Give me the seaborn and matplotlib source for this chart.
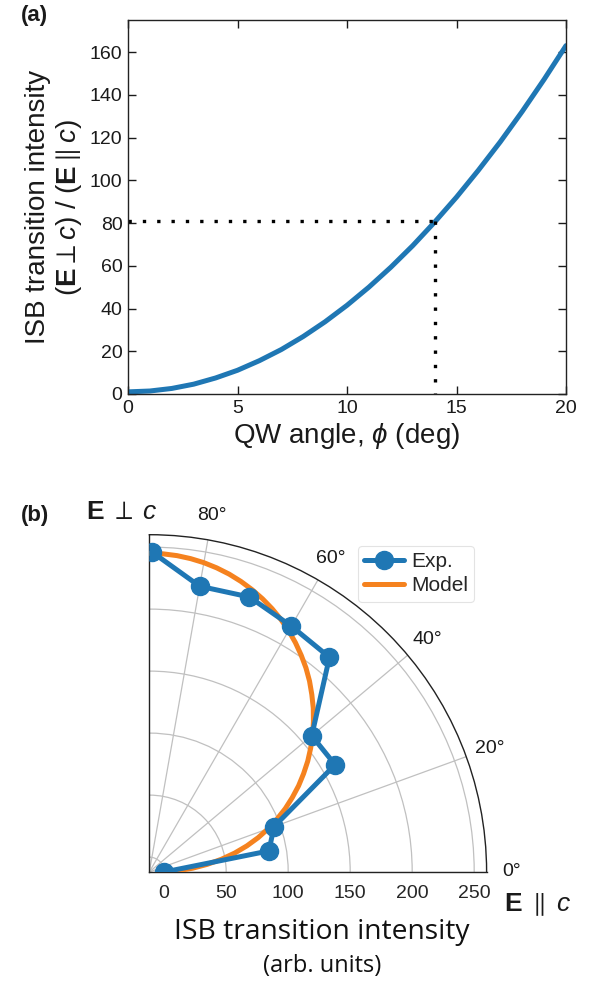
import numpy as np
import matplotlib
matplotlib.use("Agg")
import matplotlib.pyplot as plt
import seaborn as sns
import pandas as pd

# ---------------- data ----------------
# (a) ratio of ISB intensity vs QW angle
phi_deg = [0, 1, 2, 3, 4, 5, 6, 7, 8, 9, 10, 11, 12, 13, 14, 15, 16, 17, 18, 19, 20]
ratio = [1.0, 1.4, 2.6, 4.6, 7.5, 11.1, 15.6, 20.8, 26.9, 33.8, 41.5, 50.0, 59.3,
         69.4, 80.4, 92.1, 104.7, 118.0, 132.2, 147.2, 163.0]
marker_phi = 14
marker_ratio = 81
a_xticks = [0, 5, 10, 15, 20]
a_yticks = [0, 20, 40, 60, 80, 100, 120, 140, 160]

# (b) polar data
exp_theta_deg = [0, 10, 20, 30, 40, 50, 60, 70, 80, 89.5]
exp_r = [0, 86, 95, 161, 159, 214, 217, 224, 222, 246]
model_theta_deg = [0, 2.5, 5, 7.5, 10, 12.5, 15, 17.5, 20, 22.5, 25, 27.5, 30, 32.5,
                   35, 37.5, 40, 42.5, 45, 47.5, 50, 52.5, 55, 57.5, 60, 62.5, 65,
                   67.5, 70, 72.5, 75, 77.5, 80, 82.5, 85, 87.5, 90]
model_r = [0, 11.5, 23, 35, 47, 58.5, 69.5, 80, 90, 99.5, 109, 118, 127, 135.5,
           144, 152, 160, 167.5, 175, 182, 189, 195.5, 201.5, 207.3, 212.7, 217.7,
           222.3, 226.5, 230.3, 233.7, 236.7, 239.2, 241.3, 242.9, 244.1, 244.8, 245.0]
b_rticks = [0, 50, 100, 150, 200, 250]
b_thetaticks = [0, 20, 40, 60, 80]

BLUE = "#1f77b4"
ORANGE = "#f5821f"

sns.set_theme(style="white")
plt.rcParams["font.family"] = ["Liberation Sans", "DejaVu Sans"]
plt.rcParams["mathtext.fontset"] = "custom"
plt.rcParams["mathtext.rm"] = "Liberation Sans"
plt.rcParams["mathtext.it"] = "Liberation Sans:italic"
plt.rcParams["mathtext.bf"] = "Liberation Sans:bold"

W, H = 590, 983
fig = plt.figure(figsize=(W / 100, H / 100), dpi=100)
TXT = "#1a1a1a"

# ---------------- panel (a) ----------------
axa = fig.add_axes([128 / W, 1 - 394 / H, (566 - 128) / W, (394 - 20) / H])
dfa = pd.DataFrame({"phi": phi_deg, "ratio": ratio})
sns.lineplot(data=dfa, x="phi", y="ratio", ax=axa, color=BLUE, lw=3.6)
axa.plot([0, marker_phi], [marker_ratio, marker_ratio], color="black", lw=2.4,
         linestyle=(0, (1, 3.3)), dash_capstyle="butt")
axa.plot([marker_phi, marker_phi], [marker_ratio, 0], color="black", lw=2.4,
         linestyle=(0, (1, 3.3)), dash_capstyle="butt")
axa.set_xlim(0, 20)
axa.set_ylim(0, 175)
axa.set_xticks(a_xticks)
axa.set_yticks(a_yticks)
axa.tick_params(direction="in", bottom=True, left=True, top=True, right=True,
                length=6, width=1, labelsize=14, colors=TXT, pad=4)
for s in axa.spines.values():
    s.set_color("#222222")
    s.set_linewidth(1.0)
axa.set_xlabel(r"QW angle, $\phi$ (deg)", fontsize=20, labelpad=3, color=TXT)
axa.set_ylabel("ISB transition intensity\n" + r"($\mathbf{E}\perp c$) / ($\mathbf{E}\parallel c$)",
               fontsize=20, labelpad=4, linespacing=1.15, color=TXT)
fig.text(21 / W, 1 - 15 / H, "(a)", fontsize=16, fontweight="bold", ha="left",
         va="center", color=TXT)

# ---------------- panel (b) ----------------
ox, oy = 149.3, 872.0
R = 337.3
axb = fig.add_axes([ox / W, 1 - oy / H, R / W, R / H], projection="polar")
axb.set_thetamin(0)
axb.set_thetamax(90)
axb.set_ylim(-12, 260)
axb.set_rticks(b_rticks)
axb.set_thetagrids(b_thetaticks, labels=[f"{t}°" for t in b_thetaticks], fontsize=14)
axb.tick_params(axis="x", pad=5)
axb.grid(True, color="#c0c0c0", lw=0.9)
for s in axb.spines.values():
    s.set_color("#222222")
    s.set_linewidth(1.0)

dfm = pd.DataFrame({"theta": np.deg2rad(model_theta_deg), "r": model_r})
dfe = pd.DataFrame({"theta": np.deg2rad(exp_theta_deg), "r": exp_r})
axb.plot(dfm["theta"], dfm["r"], color=ORANGE, lw=3.6, label="Model", zorder=3)
axb.plot(dfe["theta"], dfe["r"], color=BLUE, lw=3.6, marker="o", markersize=13,
         label="Exp.", zorder=4)
handles, labels = axb.get_legend_handles_labels()
leg = axb.legend(handles[::-1], labels[::-1], loc="upper left",
                 bbox_to_anchor=(358 / W, 1 - 546 / H), bbox_transform=fig.transFigure,
                 fontsize=15, frameon=True, handlelength=1.9, handletextpad=0.35,
                 borderpad=0.3, labelspacing=0.25, borderaxespad=0)
leg.get_frame().set_edgecolor("#dddddd")
leg.get_frame().set_linewidth(0.8)

axb.tick_params(axis="y", labelsize=14)
for lab in axb.get_yticklabels():
    lab.set_color(TXT)
for lab in axb.get_xticklabels():
    lab.set_color(TXT)

fig.text(21 / W, 1 - 515 / H, "(b)", fontsize=16, fontweight="bold", ha="left",
         va="center", color=TXT)
fig.text(86 / W, 1 - 512 / H, r"$\mathbf{E}\;\perp\;c$", fontsize=19, ha="left",
         va="center", color=TXT)
fig.text(504 / W, 1 - 905 / H, r"$\mathbf{E}\;\parallel\;c$", fontsize=19, ha="left",
         va="center", color=TXT)
fig.text(322 / W, 1 - 932 / H, "ISB transition intensity", fontsize=20.3,
         family=["Open Sans", "DejaVu Sans"], ha="center", va="center", color="#111111")
fig.text(322 / W, 1 - 966 / H, "(arb. units)", fontsize=17,
         family=["Open Sans", "DejaVu Sans"], ha="center", va="center", color="#111111")

fig.savefig("out.png", dpi=100)
